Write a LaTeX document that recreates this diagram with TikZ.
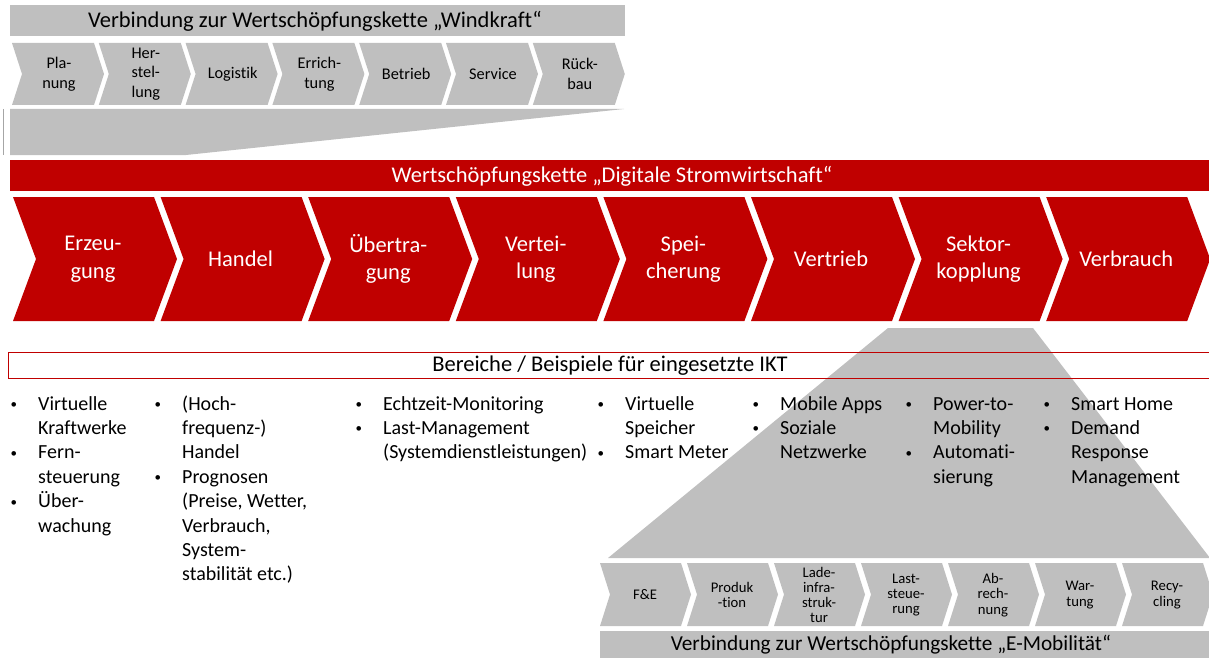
\documentclass[tikz,border=0pt]{standalone}
\usepackage{fontspec}
\setmainfont{Carlito}[Ligatures=NoCommon]
\definecolor{dsred}{HTML}{C00000}
\definecolor{dsgray}{HTML}{BFBFBF}
\definecolor{dsline}{HTML}{A6A6A6}
\tikzset{
  redchev/.style={fill=dsred},
  graychev/.style={fill=dsgray},
  redlabel/.style={text=white, align=center, inner sep=0, font=\fontsize{22.5}{27.5}\selectfont},
  windlabel/.style={align=center, inner sep=0, font=\fontsize{16.3}{19.5}\selectfont},
  emoblabel/.style={align=center, inner sep=0, font=\fontsize{14.7}{15.2}\selectfont},
  bigtitle/.style={inner sep=0, font=\fontsize{22.5}{27}\selectfont},
  bulletcol/.style={anchor=base west, inner sep=0, font=\fontsize{20}{24.4}\selectfont},
}
\newcommand{\chevpath}[6]{%
  \path[#1] ({#2},{#3}) -- ({#2+#5},{#3}) -- ({#2+#5+#6},{(#3+#4)/2}) -- ({#2+#5},{#4}) -- ({#2},{#4}) -- ({#2+#6},{(#3+#4)/2}) -- cycle;}
\newcommand{\bu}{\llap{\raisebox{1.6pt}{\fontsize{13}{13}\selectfont\textbullet}\hspace{21pt}}}
\begin{document}
\begin{tikzpicture}[x=1pt,y=-1pt]
\useasboundingbox (0,0) rectangle (1209,658);

% ---------- Windkraft ----------
\node[fill=dsgray, minimum width=615, minimum height=31, anchor=north west, inner sep=0] (windband) at (10,5) {};
\node[bigtitle] (windtitle) at (315,21) {Verbindung zur Wertschöpfungskette „Windkraft“};
\foreach \lab [count=\i from 0] in {{Pla-\\nung},{Her-\\stel-\\lung},{Logistik},{Errich-\\tung},{Betrieb},{Service},{Rück-\\bau}}{
  \pgfmathsetmacro\xx{12+86.8*\i}
  \chevpath{graychev}{\xx}{43}{105}{82}{10}
  \node[windlabel] (w\i) at (\xx+47,74) {\lab};
}
\fill[dsgray] (10,109) -- (624,109) -- (186,155) -- (10,155) -- cycle;
\draw[dsline, line width=0.8pt] (3,109) -- (3,155);

% ---------- Digitale Stromwirtschaft ----------
\node[fill=dsred, minimum width=1199, minimum height=31, anchor=north west, inner sep=0] (redband) at (10,160) {};
\node[bigtitle, text=white] (redtitle) at (612,176) {Wertschöpfungskette „Digitale Stromwirtschaft“};
\foreach \lab [count=\i from 0] in {{Erzeu-\\gung},{Handel},{Übertra-\\gung},{Vertei-\\lung},{Spei-\\cherung},{Vertrieb},{Sektor-\\kopplung},{Verbrauch}}{
  \pgfmathsetmacro\xx{13+147.6*\i}
  \chevpath{redchev}{\xx}{197}{321}{141}{23}
  \node[redlabel] (r\i) at (\xx+80,259) {\lab};
}

% ---------- trapezoid to E-Mobilitaet ----------
\fill[dsgray] (888,328) -- (1033,328) -- (1210,558) -- (608,558) -- cycle;

% ---------- IKT box ----------
\node[draw=dsred, line width=1.2pt, minimum width=1215, minimum height=26, anchor=north west, inner sep=0] (iktbox) at (8,352) {};
\node[bigtitle] (ikt) at (610,366) {Bereiche / Beispiele für eingesetzte IKT};

\node[bulletcol] (c1) at (38,410) {\begin{tabular}[t]{@{}l@{}}\bu Virtuelle\\ Kraftwerke\\ \bu Fern-\\ steuerung\\ \bu Über-\\ wachung\end{tabular}};
\node[bulletcol] (c2) at (182,410) {\begin{tabular}[t]{@{}l@{}}\bu (Hoch-\\ frequenz-)\\ Handel\\ \bu Prognosen\\ (Preise, Wetter,\\ Verbrauch,\\ System-\\ stabilität etc.)\end{tabular}};
\node[bulletcol] (c3) at (383,410) {\begin{tabular}[t]{@{}l@{}}\bu Echtzeit-Monitoring\\ \bu Last-Management\\ (Systemdienstleistungen)\end{tabular}};
\node[bulletcol] (c4) at (625,410) {\begin{tabular}[t]{@{}l@{}}\bu Virtuelle\\ Speicher\\ \bu Smart Meter\end{tabular}};
\node[bulletcol] (c5) at (780,410) {\begin{tabular}[t]{@{}l@{}}\bu Mobile Apps\\ \bu Soziale\\ Netzwerke\end{tabular}};
\node[bulletcol] (c6) at (933,410) {\begin{tabular}[t]{@{}l@{}}\bu Power-to-\\ Mobility\\ \bu Automati-\\ sierung\end{tabular}};
\node[bulletcol] (c7) at (1071,410) {\begin{tabular}[t]{@{}l@{}}\bu Smart Home\\ \bu Demand\\ Response\\ Management\end{tabular}};

% ---------- E-Mobilitaet ----------
\foreach \lab [count=\i from 0] in {{F\&E},{Produk\\-tion},{Lade-\\infra-\\struk-\\tur},{Last-\\steue-\\rung},{Ab-\\rech-\\nung},{War-\\tung},{Recy-\\cling}}{
  \pgfmathsetmacro\xx{600+87*\i}
  \chevpath{graychev}{\xx}{563}{626}{81}{10}
  \node[emoblabel] (e\i) at (\xx+45,595) {\lab};
}
\node[fill=dsgray, minimum width=615, minimum height=27, anchor=north west, inner sep=0] (emobband) at (600,631) {};
\node[bigtitle, font=\fontsize{21.3}{26}\selectfont] (emobtitle) at (891,645) {Verbindung zur Wertschöpfungskette „E-Mobilität“};
\end{tikzpicture}
\end{document}
